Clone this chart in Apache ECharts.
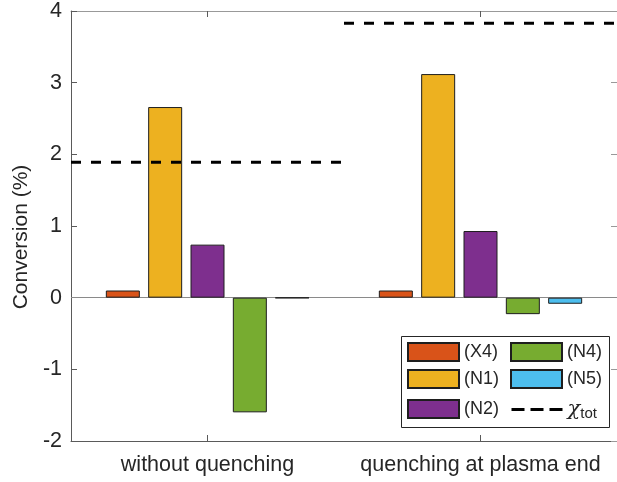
<!DOCTYPE html>
<html>
<head>
<meta charset="utf-8">
<script src="https://cdn.jsdelivr.net/npm/echarts@6/dist/echarts.min.js"></script>
<style>
html,body{margin:0;padding:0;background:#fff;}
#chart{width:617px;height:482px;}
</style>
</head>
<body>
<div id="chart"></div>
<script>
// ---- data ----
var categories = ['without quenching', 'quenching at plasma end'];
var seriesNames = ['(X4)', '(N1)', '(N2)', '(N4)', '(N5)'];
var X4 = [0.10, 0.10];
var N1 = [2.66, 3.12];
var N2 = [0.74, 0.93];
var N4 = [-1.60, -0.23];
var N5 = [-0.005, -0.085];
var chiTot = [1.89, 3.83];
var yTicks = [-2, -1, 0, 1, 2, 3, 4];
var chiName = 'chi_tot';

var colors = ['#D95319', '#EDB120', '#7E2F8E', '#77AC30', '#4DBEEE'];
var values = [X4, N1, N2, N4, N5];
var textColor = '#262626';
var axisColor = '#5a5a5a';
var fontFam = '"Liberation Sans", Arial, Helvetica, sans-serif';

var chart = echarts.init(document.getElementById('chart'), null, {renderer: 'canvas'});

var series = [];
values.forEach(function (vals, i) {
  var s = {
    name: seriesNames[i],
    type: 'bar',
    xAxisIndex: 0,
    yAxisIndex: 0,
    data: vals,
    barWidth: 34,
    barGap: '24.5%',
    itemStyle: {color: colors[i], borderColor: '#1e1e1e', borderWidth: 1},
    emphasis: {disabled: true},
    animation: false,
    z: 3
  };
  if (i === 0) {
    s.markLine = {
      silent: true,
      symbol: 'none',
      label: {show: false},
      lineStyle: {color: '#8a8a8a', width: 1, type: 'solid'},
      data: [{yAxis: 0}],
      z: 2
    };
  }
  series.push(s);
});

// chi_tot dashed lines, one per category band
chiTot.forEach(function (v, i) {
  series.push({
    name: chiName,
    type: 'line',
    xAxisIndex: 2,
    yAxisIndex: 0,
    data: [[i + 0.5, v], [i + 1.5, v]],
    symbol: 'none',
    lineStyle: {color: '#000', width: 3, type: [10, 10]},
    itemStyle: {color: '#000'},
    emphasis: {disabled: true},
    animation: false,
    z: 5
  });
});

// legend layout (each entry its own legend component)
var legendPos = [
  {name: '(X4)', left: 407, top: 342},
  {name: '(N1)', left: 407, top: 369},
  {name: '(N2)', left: 407, top: 399},
  {name: '(N4)', left: 510, top: 342},
  {name: '(N5)', left: 510, top: 369},
  {name: chiName, left: 510, top: 399}
];
var legends = legendPos.map(function (p) {
  var item = {name: p.name, icon: 'rect'};
  var lg = {
    data: [item],
    left: p.left,
    top: p.top,
    padding: 0,
    itemWidth: 51,
    itemHeight: 18,
    selectedMode: false,
    z: 6,
    textStyle: {color: textColor, fontSize: 18, fontFamily: fontFam}
  };
  if (p.name === chiName) {
    lg.data = [{
      name: chiName,
      itemStyle: {color: 'rgba(0,0,0,0)', borderWidth: 0, opacity: 0},
      lineStyle: {color: '#000', width: 3, type: [13, 6], opacity: 1}
    }];
    lg.formatter = function () { return '{chi|\u03C7}{sub|tot}'; };
    lg.textStyle.rich = {
      chi: {fontSize: 21, fontFamily: '"DejaVu Serif", serif', fontStyle: 'italic', color: textColor},
      sub: {fontSize: 15, fontFamily: fontFam, color: textColor, verticalAlign: 'bottom', padding: [9, 0, 0, 0]}
    };
  }
  return lg;
});

var option = {
  backgroundColor: '#fff',
  animation: false,
  grid: {left: 71, top: 6, width: 550, height: 435, containLabel: false},
  legend: legends,
  graphic: [{
    type: 'rect',
    shape: {x: 401.5, y: 336.5, width: 208, height: 91},
    style: {fill: '#fff', stroke: '#262626', lineWidth: 1},
    z: 4,
    silent: true
  }],
  xAxis: [
    {
      type: 'category',
      data: categories,
      position: 'bottom',
      boundaryGap: true,
      axisLine: {show: true, onZero: false, lineStyle: {color: axisColor, width: 1}},
      axisTick: {show: true, inside: true, alignWithLabel: true, length: 6, lineStyle: {color: axisColor}},
      axisLabel: {color: textColor, fontSize: 21.5, fontFamily: fontFam, margin: 13, interval: 0, hideOverlap: false},
      splitLine: {show: false}
    },
    {
      type: 'category',
      data: categories,
      position: 'top',
      boundaryGap: true,
      axisLine: {show: true, onZero: false, lineStyle: {color: '#999', width: 1}},
      axisTick: {show: true, inside: true, alignWithLabel: true, length: 6, lineStyle: {color: axisColor}},
      axisLabel: {show: false},
      splitLine: {show: false}
    },
    {
      type: 'value',
      min: 0.5,
      max: 2.5,
      show: false
    }
  ],
  yAxis: [
    {
      type: 'value',
      min: yTicks[0],
      max: yTicks[yTicks.length - 1],
      interval: 1,
      position: 'left',
      name: 'Conversion (%)',
      nameLocation: 'middle',
      nameGap: 33,
      nameTextStyle: {color: textColor, fontSize: 21, fontFamily: fontFam, padding: [0, 22, 0, 0]},
      axisLine: {show: true, lineStyle: {color: axisColor, width: 1}},
      axisTick: {show: true, inside: true, length: 6, lineStyle: {color: axisColor}},
      axisLabel: {color: textColor, fontSize: 21.5, fontFamily: fontFam, margin: 9},
      splitLine: {show: false}
    },
    {
      type: 'value',
      min: yTicks[0],
      max: yTicks[yTicks.length - 1],
      interval: 1,
      position: 'right',
      axisLine: {show: true, lineStyle: {color: axisColor, width: 1}},
      axisTick: {show: true, inside: true, length: 6, lineStyle: {color: '#999'}},
      axisLabel: {show: false},
      splitLine: {show: false}
    }
  ],
  series: series
};
chart.setOption(option);
</script>
</body>
</html>
